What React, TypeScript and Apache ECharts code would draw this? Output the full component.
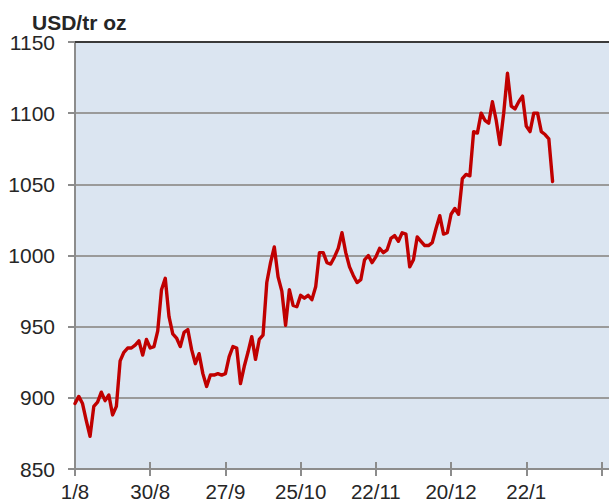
import React, { useEffect, useRef } from "react";
import * as echarts from "echarts";

const tickLabels = ["1/8", "30/8", "27/9", "25/10", "22/11", "20/12", "22/1", ""];
const daysPerTick = 20;
const totalSlots = 143;

const goldPrice = [
  896, 901, 896, 884, 873, 894, 897, 904, 898, 902,
  888, 894, 926, 932, 935, 935, 937, 940, 930, 941,
  935, 936, 947, 976, 984, 957, 945, 942, 936, 946,
  948, 934, 924, 931, 917, 908, 916, 916, 917, 916,
  917, 929, 936, 935, 910, 922, 932, 943, 927, 941,
  944, 981, 995, 1006, 985, 975, 951, 976, 965, 964,
  972, 970, 972, 969, 978, 1002, 1002, 995, 994, 999,
  1005, 1016, 1002, 992, 986, 981, 983, 997, 1000, 995,
  999, 1005, 1002, 1004, 1012, 1014, 1010, 1016, 1015, 992,
  997, 1013, 1010, 1007, 1007, 1009, 1019, 1028, 1015, 1016,
  1029, 1033, 1029, 1054, 1057, 1056, 1087, 1086, 1100, 1095,
  1093, 1108, 1095, 1078, 1100, 1128, 1105, 1103, 1108, 1112,
  1091, 1087, 1100, 1100, 1087, 1085, 1082, 1052,
];

const yMin = 850;
const yMax = 1150;
const yStep = 50;

const categories = Array.from({ length: totalSlots }, (_, i) => String(i));

export default function App() {
  const ref = useRef<HTMLDivElement>(null);
  useEffect(() => {
    if (!ref.current) return;
    const chart = echarts.init(ref.current, undefined, { renderer: "svg" });
    const font = "Liberation Sans, Arial, sans-serif";
    const labelFmt = (_v: string, idx: number) =>
      idx % daysPerTick === 0 ? tickLabels[idx / daysPerTick] ?? "" : "";
    chart.setOption({
      animation: false,
      backgroundColor: "#ffffff",
      title: {
        text: "USD/tr oz",
        left: 32,
        top: 13,
        padding: 0,
        textStyle: {
          fontFamily: font,
          fontSize: 21,
          lineHeight: 18,
          fontWeight: "bold",
          color: "#262626",
        },
      },
      grid: {
        left: 75,
        top: 42,
        width: 534.5,
        height: 427,
        show: true,
        backgroundColor: "#dbe5f1",
        borderWidth: 0,
      },
      xAxis: [
        {
          type: "category",
          data: categories,
          boundaryGap: false,
          position: "bottom",
          axisLine: { show: true, lineStyle: { color: "#8c8c8c", width: 2 } },
          axisTick: {
            show: true,
            interval: daysPerTick - 1,
            length: 7,
            lineStyle: { color: "#8c8c8c", width: 2 },
          },
          axisLabel: {
            interval: daysPerTick - 1,
            formatter: labelFmt,
            fontFamily: font,
            fontSize: 20.5,
            color: "#262626",
            margin: 12,
          },
          splitLine: { show: false },
        },
        {
          type: "category",
          data: categories,
          boundaryGap: false,
          position: "bottom",
          axisLine: { show: false },
          axisTick: {
            show: true,
            inside: true,
            interval: daysPerTick - 1,
            length: 7,
            lineStyle: { color: "#8c8c8c", width: 2 },
          },
          axisLabel: { show: false },
          splitLine: { show: false },
        },
        {
          type: "category",
          data: categories,
          boundaryGap: false,
          position: "top",
          axisLine: { show: true, lineStyle: { color: "#3a3a3a", width: 2 } },
          axisTick: { show: false },
          axisLabel: { show: false },
          splitLine: { show: false },
        },
      ],
      yAxis: {
        type: "value",
        min: yMin,
        max: yMax,
        interval: yStep,
        axisLine: { show: true, lineStyle: { color: "#8c8c8c", width: 2 } },
        axisTick: { show: true, length: 7, lineStyle: { color: "#8c8c8c", width: 2 } },
        axisLabel: {
          fontFamily: font,
          fontSize: 21,
          lineHeight: 18,
          color: "#262626",
          margin: 20,
          formatter: (v: number) => String(v),
        },
        splitLine: { show: true, lineStyle: { color: "#9a9a9a", width: 2 } },
      },
      series: [
        {
          type: "line",
          xAxisIndex: 0,
          data: goldPrice,
          symbol: "none",
          smooth: false,
          lineStyle: { color: "#c00000", width: 3.4, cap: "round", join: "round" },
          z: 5,
        },
      ],
    });
    return () => chart.dispose();
  }, []);
  return (
    <div
      ref={ref}
      style={{ position: "fixed", left: 0, top: 0, width: 609, height: 503 }}
    />
  );
}
